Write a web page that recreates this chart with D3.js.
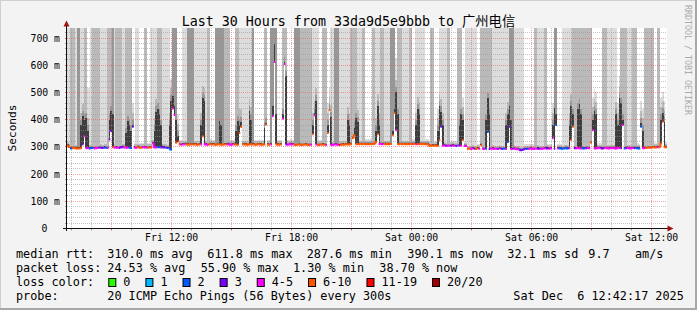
<!DOCTYPE html>
<html><head><meta charset="utf-8">
<script src="https://cdn.jsdelivr.net/npm/d3@7"></script>
<style>
html,body{margin:0;padding:0;background:#f3f3f3;}
svg{display:block;}
text{font-family:"DejaVu Sans Mono","Noto Sans CJK SC",monospace;fill:#000;}
</style></head><body>
<svg id="c" width="697" height="310"></svg>
<script>
// ---------------- data ----------------
const titleText = "Last 30 Hours from 33da9d5e9bbb to 广州电信";
const yTickValues = [0,100,200,300,400,500,600,700];
const lossBins = ["0","1","2","3","4-5","6-10","11-19","20/20"];
const lossColors = ["#26ff00","#00b8ff","#0059ff","#7e00ff","#ff00ff","#ff5500","#ff0000","#a10000"];

// median rtt per 5-minute step (ms)
const median = [
305,300,294,295,296,295,294,294,295,310,
339,296,295,294,295,296,294,295,296,297,
297,296,298,297,296,327,358,299,297,298,
297,296,298,299,297,298,297,298,296,374,
298,297,299,298,297,298,299,298,297,298,
298,313,299,298,300,299,298,299,298,297,
296,295,290,441,417,315,320,309,308,309,
309,310,309,308,309,310,309,309,308,309,
309,339,310,309,308,309,310,309,309,308,
309,310,309,308,309,309,310,309,308,309,
310,309,308,351,373,309,310,309,308,309,
310,309,309,308,309,310,309,308,309,382,
309,308,309,413,612,310,309,308,309,404,
604,309,308,309,310,309,308,307,308,309,
308,307,308,309,308,307,308,346,416,309,
308,307,308,309,308,307,351,435,308,307,
308,309,308,307,308,309,308,309,310,309,
310,332,343,310,311,310,311,310,311,310,
311,310,311,310,311,318,346,310,311,310,
311,310,311,310,311,343,425,361,311,310,
311,310,311,310,311,310,311,310,311,310,
311,310,311,310,311,310,311,305,304,305,
304,305,304,325,374,304,305,304,303,304,
304,305,304,303,304,305,304,325,304,303,
292,293,292,294,293,292,294,293,306,293,
292,293,355,292,293,294,292,293,292,294,
293,292,293,292,318,374,292,293,294,292,
291,290,288,289,291,292,293,292,294,293,
292,293,294,293,292,293,294,295,294,293,
294,332,293,380,294,295,294,293,294,295,
294,295,325,374,295,294,296,295,294,295,
294,295,296,295,315,361,295,294,295,296,
295,294,295,296,295,294,295,296,295,294,
295,296,295,380,294,295,296,295,294,296,
295,296,295,294,374,296,295,296,297,298,
297,298,299,298,299,298,312,392,300,299];

// lost pings out of 20 per step
const loss = [
7,7,2,7,7,6,7,8,7,3,
4,4,5,2,2,2,5,4,4,3,
3,3,2,2,4,3,3,7,4,4,
5,3,3,3,4,4,5,2,2,3,
4,4,7,6,7,5,4,4,6,7,
7,4,5,4,2,2,3,3,3,2,
3,2,2,4,5,7,12,7,4,4,
5,7,6,7,7,8,7,6,7,7,
4,7,5,4,4,7,7,6,7,8,
7,7,6,7,7,7,4,4,5,4,
7,6,7,7,7,7,7,6,7,7,
7,8,7,7,7,6,7,7,7,7,
7,8,4,4,5,7,7,6,7,4,
5,3,4,4,5,4,7,7,8,7,
6,7,7,7,7,6,4,7,4,4,
7,7,6,7,7,5,7,7,4,5,
4,4,5,12,7,7,7,6,7,7,
7,7,7,7,8,7,7,7,6,7,
7,7,7,7,7,7,7,5,4,4,
7,7,7,6,7,7,7,4,7,7,
7,8,7,7,6,7,7,7,7,4,
7,7,7,6,7,7,7,7,8,7,
7,7,7,7,3,4,5,3,4,4,
3,4,5,2,4,3,4,7,4,4,
7,7,5,4,3,7,7,4,7,4,
4,2,2,3,4,5,4,4,3,4,
3,2,2,4,2,3,4,3,4,4,
5,3,3,3,3,2,3,4,4,5,
4,4,3,3,4,5,4,3,3,4,
4,4,3,2,5,2,2,2,2,2,
2,4,7,7,3,4,4,4,4,2,
2,3,5,4,7,4,4,5,4,4,
3,3,4,4,5,4,4,4,5,5,
4,4,3,4,2,3,4,4,5,4,
3,2,2,2,2,4,5,7,7,6,
7,6,7,7,4,7,7,7,6,7];

// smoke: top of each ping-spread layer per step (ms); values above the graph are clipped
const smokeOuter = [
900,900,900,900,900,900,900,900,900,900,
900,900,515,515,900,900,900,900,900,900,
900,900,900,900,900,900,900,900,900,900,
900,900,900,900,900,900,900,900,900,460,
316,900,900,316,315,316,900,900,315,316,
900,900,900,900,900,900,900,900,900,900,
900,900,550,900,900,900,420,327,326,900,
900,900,900,900,900,900,900,900,900,900,
900,900,900,900,900,900,328,327,327,900,
900,900,900,900,900,900,900,900,326,327,
328,900,900,900,900,900,900,900,900,900,
900,900,327,326,327,328,327,326,900,900,
327,326,900,900,900,900,327,326,327,900,
900,900,326,327,328,327,900,900,900,900,
900,900,900,900,900,900,900,900,900,900,
900,325,326,900,900,900,460,518,900,900,
900,900,900,900,900,900,900,900,900,900,
900,900,900,900,900,900,900,900,900,328,
329,328,329,900,900,900,900,900,900,900,
900,900,900,900,900,900,900,626,900,900,
900,900,900,900,900,900,900,328,329,900,
900,900,900,900,900,328,329,323,900,900,
322,323,440,900,900,900,900,900,900,900,
322,323,322,321,900,900,900,480,322,900,
900,900,900,900,900,900,312,311,900,900,
900,900,900,900,900,900,900,900,900,900,
900,900,900,900,900,900,900,900,900,900,
900,900,900,900,309,310,311,310,312,311,
900,900,900,900,900,900,900,900,312,311,
312,460,900,900,312,313,312,900,900,900,
900,900,900,900,900,900,900,900,900,900,
900,900,900,900,900,480,511,500,313,314,
313,900,900,900,900,900,900,900,900,900,
460,559,900,900,900,900,900,900,900,900,
900,900,313,312,467,440,900,900,900,900,
900,900,317,316,900,900,480,503,470,317];

const smokeInner = [
317,312,900,900,900,307,900,900,425,458,
900,900,405,306,307,900,900,900,900,900,
309,308,310,309,900,900,900,900,309,900,
900,900,900,311,309,900,900,900,900,425,
310,309,311,310,309,310,900,900,309,310,
310,325,405,475,900,900,900,311,310,309,
308,425,515,900,900,900,385,321,320,321,
321,322,900,900,900,900,321,321,320,321,
425,524,515,321,900,900,322,321,321,900,
900,900,900,900,900,900,900,900,320,321,
322,900,900,440,440,321,322,321,320,476,
445,900,321,320,321,322,321,320,900,900,
321,320,900,900,900,900,321,320,321,900,
900,900,320,321,322,321,900,900,900,900,
900,900,900,900,900,900,900,425,468,515,
320,319,320,900,900,900,425,483,455,319,
900,900,900,319,320,321,320,321,445,425,
900,900,900,900,435,322,323,900,900,322,
323,322,323,900,900,405,495,425,900,900,
323,322,323,322,900,900,900,545,900,900,
900,322,323,322,323,900,900,322,323,425,
483,465,323,322,323,322,323,317,900,900,
316,317,405,495,475,425,317,316,900,900,
316,317,316,315,900,900,900,445,316,315,
304,305,304,306,305,304,306,305,900,900,
900,900,900,900,900,306,304,305,304,306,
305,304,305,425,465,900,900,900,306,304,
303,302,300,301,303,304,305,304,306,305,
900,900,306,305,304,305,900,900,306,305,
306,425,900,900,306,307,306,305,306,307,
306,425,495,900,900,900,900,900,900,900,
900,900,900,900,900,445,476,465,307,308,
307,900,900,900,307,306,307,308,307,465,
425,524,900,900,900,900,308,307,306,900,
900,900,307,306,432,405,900,900,900,900,
900,900,311,310,900,900,445,468,435,311];

const smokeDense = [
312,307,301,302,303,302,900,900,400,433,
420,425,380,301,302,303,301,302,303,304,
304,303,305,304,303,420,451,900,304,305,
304,303,305,306,304,370,414,400,380,400,
305,304,306,305,304,305,306,305,304,305,
305,320,380,450,460,440,400,306,305,304,
303,400,490,900,900,900,360,316,315,316,
316,317,900,900,900,900,316,316,315,316,
400,499,490,316,315,316,317,316,316,900,
900,900,900,900,316,316,317,316,315,316,
317,380,414,400,410,316,317,316,315,451,
420,900,316,315,316,317,316,315,390,407,
316,315,900,900,900,900,316,315,316,440,
632,580,315,316,317,316,900,900,900,900,
315,314,315,316,315,314,315,400,443,490,
315,314,315,316,315,314,400,458,430,314,
900,900,900,314,315,316,315,316,420,400,
317,339,390,425,410,317,318,317,318,317,
318,317,318,317,318,380,470,400,318,317,
318,317,318,317,900,900,900,520,440,317,
318,317,318,317,318,317,318,317,318,400,
458,440,318,317,318,317,318,312,311,312,
311,312,380,470,450,400,312,311,310,311,
311,312,311,310,311,400,440,420,311,310,
299,300,299,301,300,299,301,300,313,300,
299,420,499,440,300,301,299,300,299,301,
300,299,300,400,440,900,900,900,301,299,
298,297,295,296,298,299,300,299,301,300,
299,300,301,300,299,300,301,302,301,300,
301,400,900,900,301,302,301,300,301,302,
301,400,470,440,302,301,460,476,440,302,
301,302,303,302,322,420,451,440,302,303,
302,301,302,303,302,301,302,303,302,440,
400,499,480,420,301,302,303,302,301,303,
302,303,302,301,407,380,302,303,304,305,
304,305,306,305,306,305,420,443,410,306];

const smokeCore = [
309,304,298,299,300,299,298,298,380,413,
400,405,360,298,299,300,298,299,300,301,
301,300,302,301,300,400,431,420,301,302,
301,300,302,303,301,350,394,380,360,380,
302,301,303,302,301,302,303,302,301,302,
302,317,360,430,440,420,380,303,302,301,
300,380,470,486,450,400,340,313,312,313,
313,314,313,312,313,314,313,313,312,313,
380,479,470,313,312,313,314,313,313,312,
313,394,380,312,313,313,314,313,312,313,
314,360,394,380,390,313,314,313,312,431,
400,313,313,312,313,314,313,312,370,387,
313,312,313,450,680,420,313,312,313,420,
612,560,312,313,314,313,312,311,312,313,
312,311,312,313,312,311,312,380,423,470,
312,311,312,313,312,311,380,438,410,311,
312,313,312,311,312,313,312,313,400,380,
314,336,370,405,390,314,315,314,315,314,
315,314,315,314,315,360,450,380,315,314,
315,314,315,314,315,360,440,500,420,314,
315,314,315,314,315,314,315,314,315,380,
438,420,315,314,315,314,315,309,308,309,
308,309,360,450,430,380,309,308,307,308,
308,309,308,307,308,380,420,400,308,307,
296,297,296,298,297,296,298,297,310,297,
296,400,479,420,297,298,296,297,296,298,
297,296,297,380,420,450,400,297,298,296,
295,294,292,293,295,296,297,296,298,297,
296,297,298,297,296,297,298,299,298,297,
298,380,442,420,298,299,298,297,298,299,
298,380,450,420,299,298,440,456,420,299,
298,299,300,299,319,400,431,420,299,300,
299,298,299,300,299,298,299,300,299,420,
380,479,460,400,298,299,300,299,298,300,
299,300,299,298,387,360,299,300,301,302,
301,302,303,302,303,302,400,423,390,303];

const statsMedian = ["310.0 ms avg","611.8 ms max","287.6 ms min","390.1 ms now","32.1 ms sd","9.7","am/s"];
const statsLoss = ["24.53 % avg","55.90 % max","1.30 % min","38.70 % now"];
const probeText = "20 ICMP Echo Pings (56 Bytes) every 300s";
const stampText = "Sat Dec  6 12:42:17 2025";

// ---------------- drawing ----------------
const svg = d3.select("#c");
const X0 = 67, X1 = 667, YB = 228.5, YT = 28;
const tStart = new Date(2025, 11, 5, 6, 46), tEnd = new Date(2025, 11, 6, 12, 46);
const x = d3.scaleTime().domain([tStart, tEnd]).range([X0, X1]);
const y = d3.scaleLinear().domain([0, 737]).range([YB, YT]);
const yMax = y.domain()[1];
const stepMs = 300000;
const tAt = i => new Date(tStart.getTime() + i * stepMs);

svg.append("rect").attr("width", 697).attr("height", 310).attr("fill", "#f3f3f3");
svg.append("rect").attr("x", X0).attr("y", YT).attr("width", X1 - X0).attr("height", YB - YT).attr("fill", "#ffffff");

// smoke layers
const layers = [
  {vals: smokeOuter, color: "#dcdcdc"},
  {vals: smokeInner, color: "#bababa"},
  {vals: smokeDense, color: "#979797"},
  {vals: smokeCore,  color: "#3e3e3e"}
];
const gs = svg.append("g").attr("shape-rendering", "crispEdges");
layers.forEach(L => {
  gs.selectAll(null).data(median).enter().append("rect")
    .attr("x", (d, i) => x(tAt(i)))
    .attr("width", (d, i) => x(tAt(i + 1)) - x(tAt(i)))
    .attr("y", (d, i) => y(Math.min(L.vals[i], yMax)))
    .attr("height", (d, i) => Math.max(0, y(d) - y(Math.min(L.vals[i], yMax))))
    .attr("fill", L.color);
});

// grid
const gg = svg.append("g");
const snap = v => Math.floor(v) + 0.5;
const hours = d3.timeHour.range(tStart, tEnd);
hours.forEach(h => {
  const major = h.getHours() % 3 === 0;
  const xx = snap(x(h));
  gg.append("line").attr("x1", xx).attr("x2", xx).attr("y1", YT).attr("y2", YB)
    .attr("stroke", major ? "rgba(230,90,90,0.55)" : "rgba(150,150,150,0.55)")
    .attr("stroke-dasharray", "1,1");
  gg.append("line").attr("x1", xx).attr("x2", xx).attr("y1", YB).attr("y2", YB + 2)
    .attr("stroke", major ? "#e06060" : "#a0a0a0");
});
d3.range(20, yMax, 20).forEach(v => {
  const major = v % 100 === 0;
  const yy = snap(y(v));
  gg.append("line").attr("x1", X0).attr("x2", X1).attr("y1", yy).attr("y2", yy)
    .attr("stroke", major ? "rgba(230,90,90,0.55)" : "rgba(150,150,150,0.55)")
    .attr("stroke-dasharray", "1,1");
  gg.append("line").attr("x1", X0 - 2).attr("x2", X0).attr("y1", yy).attr("y2", yy)
    .attr("stroke", major ? "#e06060" : "#a0a0a0");
});

// median line coloured by loss (one short segment per step)
const binOf = l => l === 0 ? 0 : l === 1 ? 1 : l === 2 ? 2 : l === 3 ? 3 : l <= 5 ? 4 : l <= 10 ? 5 : l <= 19 ? 6 : 7;
const gm = svg.append("g");
median.forEach((m, i) => {
  const b = binOf(loss[i]);
  const x0 = x(tAt(i)), x1 = x(tAt(i + 1));
  const yy = y(m);
  let p = "M" + x0 + "," + yy;
  if (i > 0 && binOf(loss[i - 1]) === b && Math.abs(y(median[i - 1]) - yy) < 4)
    p = "M" + x0 + "," + y(median[i - 1]) + "V" + yy;
  p += "H" + x1;
  gm.append("path").attr("d", p).attr("fill", "none")
    .attr("stroke", lossColors[b]).attr("stroke-width", 2);
});

// axes
svg.append("line").attr("x1", 63).attr("x2", 668).attr("y1", YB).attr("y2", YB).attr("stroke", "#111");
svg.append("line").attr("x1", 66.5).attr("x2", 66.5).attr("y1", 231).attr("y2", 26).attr("stroke", "#111");
svg.append("path").attr("d", "M667.5,225.5L673.5,228.5L667.5,231.5Z").attr("fill", "#a01010");
svg.append("path").attr("d", "M63.5,26.5L66.5,20.5L69.5,26.5Z").attr("fill", "#a01010");

// x labels
const labelHours = d3.timeHour.every(6).range(tStart, tEnd);
svg.selectAll(null).data(labelHours).enter().append("text")
  .attr("x", d => x(d)).attr("y", 241).attr("text-anchor", "middle")
  .style("font-size", "9.8px").text(d3.timeFormat("%a %H:%M"));

// y labels
svg.selectAll(null).data(yTickValues).enter().append("text")
  .attr("x", d => d === 0 ? 47.5 : 60).attr("y", d => y(d) + 3.6)
  .attr("text-anchor", "end").style("font-size", "9.8px")
  .text(d => d === 0 ? "0" : d + " m");

// titles
svg.append("text").attr("x", 348.5).attr("y", 26).attr("text-anchor", "middle")
  .style("font-size", "13.3px").text(titleText);
svg.append("text").attr("transform", "translate(15.5,128) rotate(-90)").attr("text-anchor", "middle")
  .style("font-size", "11.1px").text("Seconds");
svg.append("text").attr("transform", "translate(684.5,5) rotate(90)")
  .style("font-size", "8.3px").style("fill", "#aaaaaa").text("RRDTOOL / TOBI OETIKER");

// legend
const lf = "11.8px";
const row = (yy, items) => items.forEach(([xx, t]) =>
  svg.append("text").attr("x", xx).attr("y", yy).style("font-size", lf).style("white-space", "pre").text(t));
row(258, [[16, "median rtt:"], [107.3, statsMedian[0]], [207.3, statsMedian[1]], [306.7, statsMedian[2]],
          [407.3, statsMedian[3]], [507.3, statsMedian[4]], [588.3, statsMedian[5]], [635, statsMedian[6]]]);
row(272, [[16, "packet loss:"], [107.3, statsLoss[0]], [200.7, statsLoss[1]], [293, statsLoss[2]], [379.3, statsLoss[3]]]);
row(286, [[16, "loss color:"]]);
let lx = 108.3;
lossBins.forEach((lab, i) => {
  svg.append("rect").attr("x", lx + 0.5).attr("y", 278.5).attr("width", 7).attr("height", 8)
    .attr("fill", lossColors[i]).attr("stroke", "#000").attr("stroke-width", 1);
  const t = svg.append("text").attr("x", lx + 15).attr("y", 286).style("font-size", lf).text(lab);
  lx = lx + 15 + t.node().getComputedTextLength() + 15;
});
row(299.5, [[16, "probe:"], [107.3, probeText], [513.3, stampText]]);

// frame
svg.append("line").attr("x1", 0).attr("x2", 697).attr("y1", 0.5).attr("y2", 0.5).attr("stroke", "#d0d0d0");
svg.append("line").attr("x1", 0.5).attr("x2", 0.5).attr("y1", 0).attr("y2", 310).attr("stroke", "#d0d0d0");
svg.append("rect").attr("x", 695).attr("y", 0).attr("width", 2).attr("height", 310).attr("fill", "#a8a8a8");
svg.append("rect").attr("x", 0).attr("y", 308).attr("width", 697).attr("height", 2).attr("fill", "#a8a8a8");
</script>
</body></html>
